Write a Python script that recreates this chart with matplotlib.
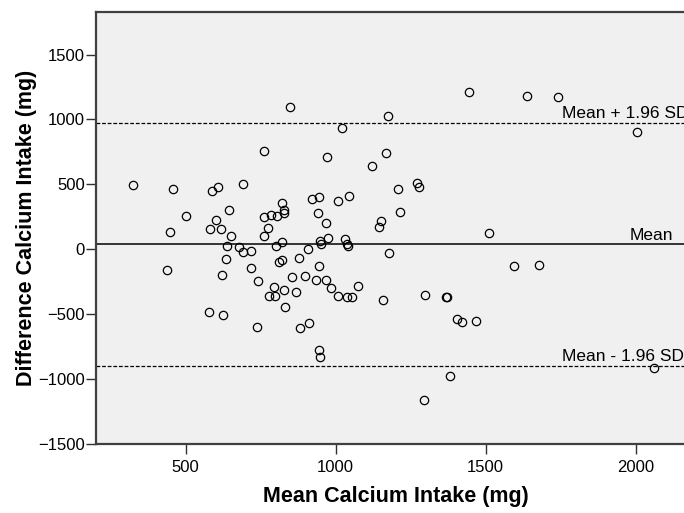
import matplotlib.pyplot as plt

plt.rcParams['font.family'] = ['Liberation Sans', 'DejaVu Sans']

# mean of the two measurements (mg)
mean_intake = [
    847, 1174, 1021, 761, 971, 1169, 1121, 323, 456, 587,
    606, 692, 922, 943, 1006, 1043, 822, 828, 828, 761,
    783, 803, 940, 644, 500, 601, 968, 1151, 1143, 447,
    580, 618, 773, 761, 650, 974, 946, 952, 1031, 1036,
    1041, 820, 801, 637, 679, 691, 719, 906, 1177, 877,
    822, 811, 633, 943, 438, 717, 620, 853, 897, 934,
    966, 741, 984, 1073, 794, 827, 868, 779, 797, 1009,
    1039, 1053, 1159, 831, 576, 624, 737, 882, 912, 943,
    948, 1444, 1637, 1742, 2006, 1209, 1270, 1278, 1214, 1511,
    1596, 1678, 1299, 1368, 1372, 1403, 1421, 1468, 1382, 1293,
    2060,
]
# difference between the two measurements (mg)
diff_intake = [
    1094, 1029, 937, 760, 714, 745, 642, 496, 463, 452,
    483, 504, 386, 406, 375, 412, 355, 304, 278, 250,
    265, 258, 278, 304, 260, 227, 202, 217, 171, 137,
    155, 155, 165, 104, 102, 86, 63, 42, 78, 40,
    29, 55, 25, 29, 19, -22, -12, 4, -25, -65,
    -81, -94, -73, -125, -155, -145, -196, -209, -206, -232,
    -235, -240, -294, -281, -291, -312, -329, -358, -358, -358,
    -368, -363, -388, -445, -481, -504, -598, -606, -568, -778,
    -825, 1209, 1181, 1171, 906, 465, 509, 483, 288, 125,
    -127, -122, -352, -368, -368, -537, -560, -548, -971, -1160,
    -914,
]

mean_diff = 40
sd_diff = 477
upper = mean_diff + 1.96 * sd_diff
lower = mean_diff - 1.96 * sd_diff

fig = plt.figure(figsize=(6.84, 5.13), dpi=100)
ax = fig.add_axes([0.14, 0.134, 0.877, 0.842])
ax.set_facecolor('#f0f0f0')

ax.plot(mean_intake, diff_intake, 'o', markersize=6, markerfacecolor='none',
        markeredgecolor='black', markeredgewidth=0.9)

ax.axhline(mean_diff, color='black', linewidth=1.1)
ax.axhline(upper, color='black', linewidth=0.9, linestyle=(0, (3, 1.5)))
ax.axhline(lower, color='black', linewidth=0.9, linestyle=(0, (3, 1.5)))

ax.text(1753, upper + 10, 'Mean + 1.96 SD', fontsize=12.5, va='bottom')
ax.text(1980, mean_diff + 10, 'Mean', fontsize=12.5, va='bottom')
ax.text(1753, lower + 10, 'Mean - 1.96 SD', fontsize=12.5, va='bottom')

ax.set_xlim(200, 2200)
ax.set_ylim(-1500, 1825)
ax.set_xticks([500, 1000, 1500, 2000])
ax.set_yticks([-1500, -1000, -500, 0, 500, 1000, 1500])

for side in ['left', 'bottom', 'top']:
    ax.spines[side].set_color('#404040')
    ax.spines[side].set_linewidth(1.6)
ax.spines['right'].set_visible(False)
ax.tick_params(axis='both', direction='out', length=7, width=1,
               color='#303030', labelsize=12, pad=1)
ax.tick_params(axis='x', pad=4)

ax.set_xlabel('Mean Calcium Intake (mg)', fontsize=15.5, fontweight='bold', labelpad=8)
ax.set_ylabel('Difference Calcium Intake (mg)', fontsize=15.5, fontweight='bold', labelpad=1)

fig.savefig('out.png', dpi=100)
